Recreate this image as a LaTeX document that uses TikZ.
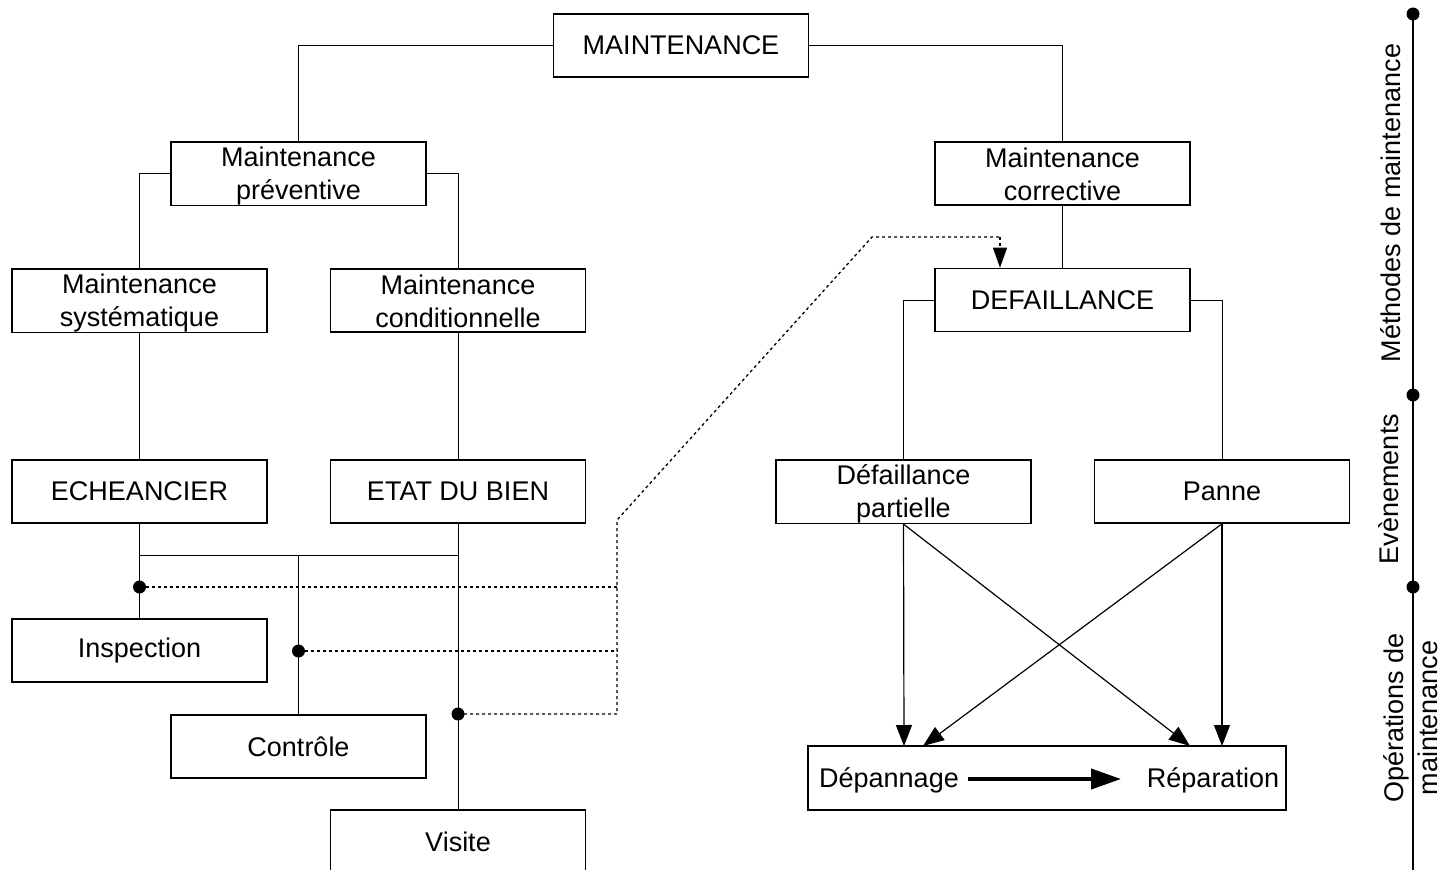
\documentclass[tikz,border=0pt]{standalone}
\usepackage{fontspec}
\setmainfont{Liberation Sans}
\usetikzlibrary{arrows.meta}
\newcommand\tstrut{\rule[-5pt]{0pt}{30pt}}
\begin{document}
\begin{tikzpicture}[x=1pt,y=-1pt,
  box/.style={draw, line width=1.6pt, minimum width=255pt, minimum height=63pt, inner sep=0pt, align=center, font=\fontsize{27}{33}\selectfont},
  txt/.style={inner sep=0pt, font=\fontsize{27}{32}\selectfont},
  conn/.style={line width=1pt},
  dotl/.style={line width=1.3pt, dash pattern=on 3pt off 3pt},
  arr/.style={line width=1.2pt, -{Triangle[length=21pt,width=16pt]}},
  bigarr/.style={line width=4pt, -{Triangle[length=30pt,width=20pt]}},
  lab/.style={rotate=90, inner sep=0pt, align=center, font=\fontsize{27}{34}\selectfont},
  jdot/.style={circle, fill, inner sep=0pt, minimum size=13pt}]
\fill[white] (0,0) rectangle (1451,870);
\clip (0,0) rectangle (1451,870);
% boxes
\node[box] (M) at (681,45.5) {MAINTENANCE};
\node[box] (prev) at (298.5,173.5) {\tstrut Maintenance\\\tstrut préventive};
\node[box] (corr) at (1062.5,173.5) {\tstrut Maintenance\\\tstrut corrective};
\node[box] (sys) at (139.5,300.5) {\tstrut Maintenance\\\tstrut systématique};
\node[box] (cond) at (458,300.5) {\tstrut Maintenance\\\tstrut conditionnelle};
\node[box] (def) at (1062.5,300) {DEFAILLANCE};
\node[box] (ech) at (139.5,491.5) {ECHEANCIER};
\node[box] (etat) at (458,491.5) {ETAT DU BIEN};
\node[box] (dp) at (903.5,491.5) {\tstrut Défaillance\\\tstrut partielle};
\node[box] (panne) at (1222,491.5) {Panne};
\node[box] (insp) at (139.5,650.5) {Inspection};
\node[box] (ctrl) at (298.5,746.5) {Contrôle};
\node[box] (vis) at (458,841.5) {Visite};
\node[box, minimum width=478pt, minimum height=64pt] (op) at (1047,778) {};
\node[txt, anchor=base] (dep) at (889,787) {Dépannage};
\node[txt, anchor=base] (rep) at (1213,787) {Réparation};
% tree connectors
\draw[conn] (M.west) -| (prev.north);
\draw[conn] (M.east) -| (corr.north);
\draw[conn] (prev.west) -| (sys.north);
\draw[conn] (prev.east) -| (cond.north);
\draw[conn] (sys.south) -- (ech.north);
\draw[conn] (cond.south) -- (etat.north);
\draw[conn] (corr.south) -- (def.north);
\draw[conn] (def.west) -| (dp.north);
\draw[conn] (def.east) -| (panne.north);
% bus
\coordinate (bL) at (139.5,555);
\coordinate (bM) at (298.5,555);
\coordinate (bR) at (458,555);
\draw[conn] (ech.south) -- (insp.north);
\draw[conn] (etat.south) -- (vis.north);
\draw[conn] (bL) -- (bR);
\draw[conn] (bM) -- (ctrl.north);
% junction dots and dotted links
\node[jdot] (d1) at (139.5,587) {};
\node[jdot] (d2) at (298.5,651) {};
\node[jdot] (d3) at (458,714) {};
\coordinate (r1) at (617,587);
\coordinate (r2) at (617,651);
\coordinate (r3) at (617,714);
\coordinate (up) at (617,520);
\coordinate (dg) at (872,237);
\coordinate (tp) at (1000,237);
\draw[dotl] (d1.center) -- (r1);
\draw[dotl] (d2.center) -- (r2);
\draw[dotl] (d3.center) -- (r3) -- (up) -- (dg) -- (tp);
\draw[dotl, -{Triangle[length=20pt,width=14pt,fill=black]}] (tp) -- (tp |- def.north);
% arrows to operations
\coordinate (t1) at (904,746);
\coordinate (t2) at (923,746);
\coordinate (t3) at (1190,746);
\coordinate (t4) at (1222,746);
\draw[arr] (dp.south) -- (t1);
\draw[arr] (dp.south) -- (t3);
\draw[arr] (panne.south) -- (t4);
\draw[arr] (panne.south) -- (t2);
\coordinate (ba) at (968,779);
\coordinate (bb) at (1121,779);
\draw[bigarr] (ba) -- (bb);
% side axis
\node[jdot] (s1) at (1413,14) {};
\node[jdot] (s2) at (1413,395) {};
\node[jdot] (s3) at (1413,587) {};
\coordinate (s4) at (1413,875);
\draw[line width=1.6pt] (s1.center) -- (s4);
\node[lab] (l1) at (1391,203) {Méthodes de maintenance};
\node[lab] (l2) at (1389,489) {Evènements};
\node[lab] (l3) at (1411,718) {Opérations de\\maintenance};
\end{tikzpicture}
\end{document}
